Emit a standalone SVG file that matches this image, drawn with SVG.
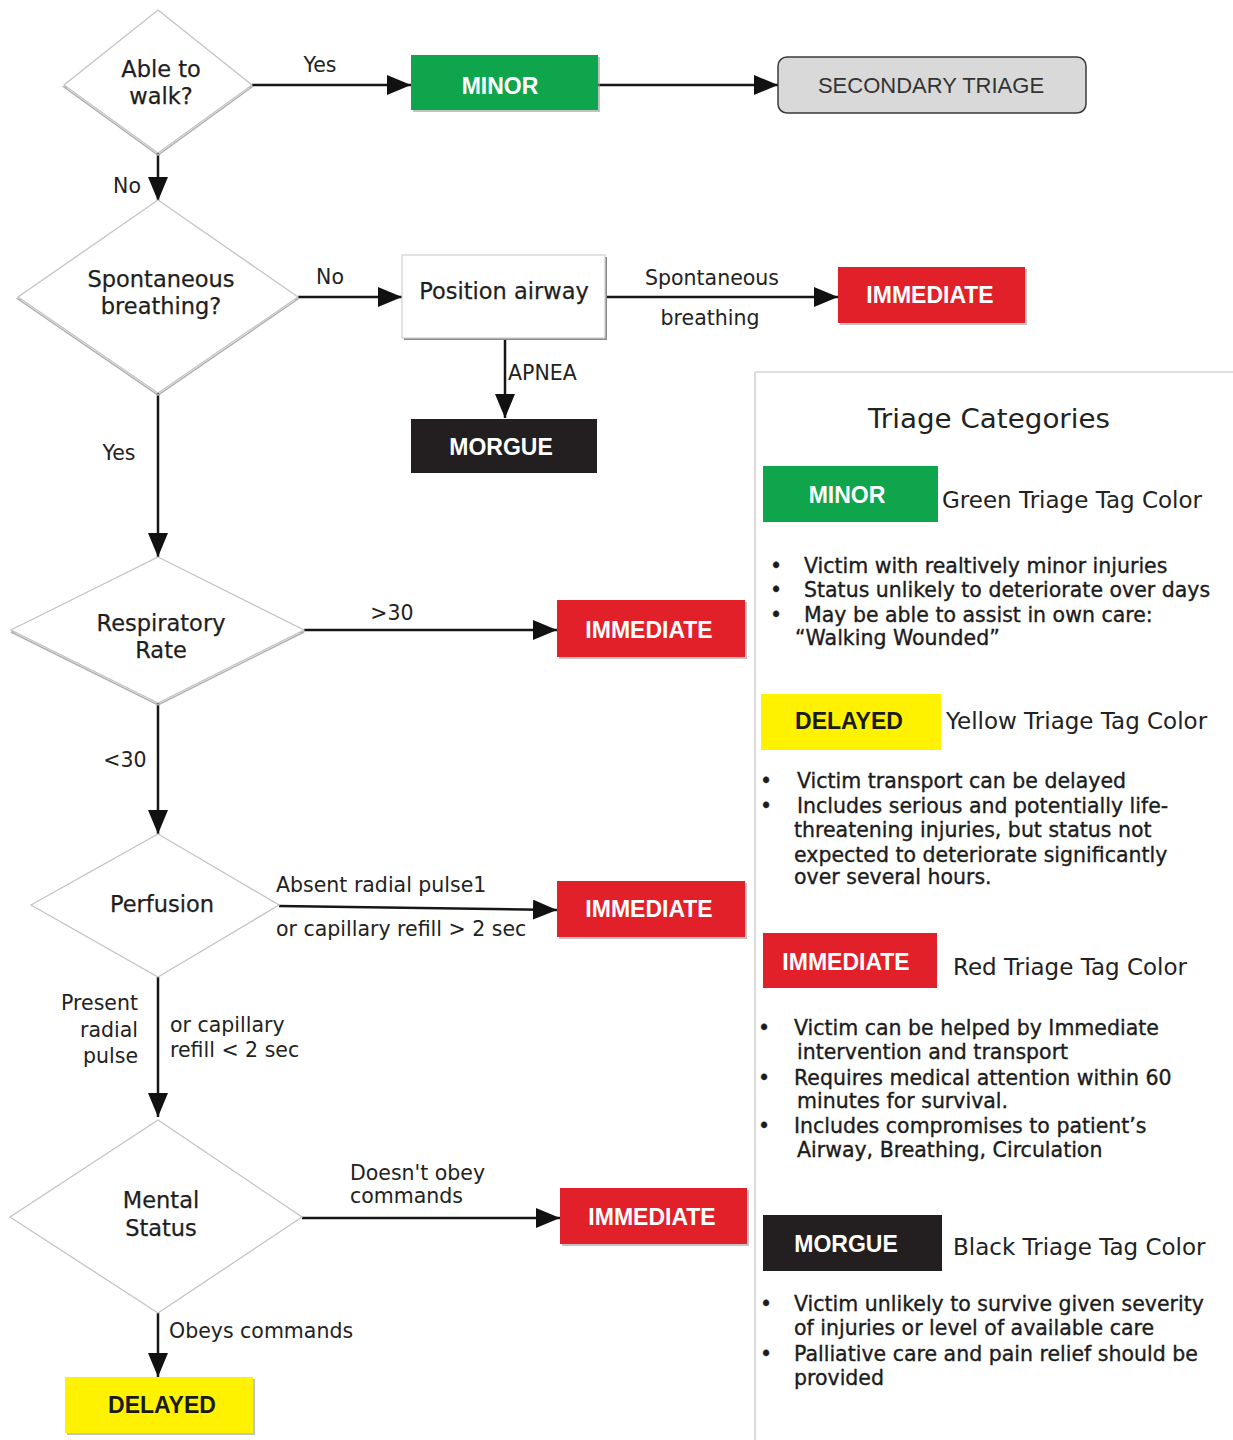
<svg xmlns="http://www.w3.org/2000/svg" width="1233" height="1440" viewBox="0 0 1233 1440">
<defs>
<marker id="arr" markerUnits="userSpaceOnUse" markerWidth="24" markerHeight="20" refX="24" refY="10" orient="auto">
<path d="M0,0 L24,10 L0,20 Z" fill="#111"/>
</marker>
<style>
.dia{fill:#fff;stroke:#c4c4c4;stroke-width:1.3}
.dsh{fill:none;stroke:#b0b0b0;stroke-width:1.5}
.dt{font-family:"DejaVu Sans",sans-serif;font-size:22.5px;fill:#1e1e1e;text-anchor:middle;stroke:#1e1e1e;stroke-width:0.25}
.lbl{font-family:"DejaVu Sans",sans-serif;font-size:20.5px;fill:#222}
.bx{font-family:"Liberation Sans",Arial,sans-serif;font-weight:bold;font-size:23px;text-anchor:middle}
.w{fill:#fff}
.k{fill:#1a1a1a}
.conn{stroke:#161616;stroke-width:2.5;fill:none;marker-end:url(#arr)}
.green{fill:#0ea54c}
.red{fill:#e2202a}
.yel{fill:#fff200}
.blk{fill:#231f20}
.shadow{fill:#9a9a9a;opacity:0.6}
.tag{font-family:"DejaVu Sans",sans-serif;font-size:23px;fill:#222}
.bul{font-family:"DejaVu Sans",sans-serif;font-size:20.5px;fill:#1c1c1c;stroke:#1c1c1c;stroke-width:0.35}
</style>
</defs>
<rect width="1233" height="1440" fill="#fff"/>

<!-- legend panel -->
<g id="legend-panel">
<line x1="755" y1="372" x2="1233" y2="372" stroke="#d4d4d4" stroke-width="1.5"/>
<line x1="755" y1="372" x2="755" y2="1440" stroke="#cfcfcf" stroke-width="1.5"/>
<text x="989" y="428" font-family="DejaVu Sans, sans-serif" font-size="26" fill="#222" text-anchor="middle" textLength="242" lengthAdjust="spacingAndGlyphs">Triage Categories</text>
</g>

<!-- connectors -->
<g id="connectors">
<line class="conn" x1="252" y1="85" x2="411" y2="85"/>
<line class="conn" x1="598" y1="85" x2="778" y2="85"/>
<line class="conn" x1="158" y1="153" x2="158" y2="201"/>
<line class="conn" x1="298" y1="297" x2="402" y2="297"/>
<line class="conn" x1="605" y1="297" x2="838" y2="297"/>
<line class="conn" x1="505" y1="338" x2="505" y2="418"/>
<line class="conn" x1="158" y1="393" x2="158" y2="557"/>
<line class="conn" x1="304" y1="630" x2="557" y2="630"/>
<line class="conn" x1="158" y1="703" x2="158" y2="834"/>
<line class="conn" x1="279" y1="906" x2="557" y2="910"/>
<line class="conn" x1="158" y1="977" x2="158" y2="1117"/>
<line class="conn" x1="302" y1="1218" x2="560" y2="1218"/>
<line class="conn" x1="158" y1="1313" x2="158" y2="1377"/>
<text class="lbl" x="320" y="72" text-anchor="middle">Yes</text>
<text class="lbl" x="141" y="193" text-anchor="end" font-size="19">No</text>
<text class="lbl" x="330" y="284" text-anchor="middle">No</text>
<text class="lbl" x="712" y="285" text-anchor="middle">Spontaneous</text>
<text class="lbl" x="710" y="325" text-anchor="middle">breathing</text>
<text class="lbl" x="508" y="380">APNEA</text>
<text class="lbl" x="119" y="460" text-anchor="middle">Yes</text>
<text class="lbl" x="392" y="620" text-anchor="middle">&gt;30</text>
<text class="lbl" x="125" y="767" text-anchor="middle">&lt;30</text>
<text class="lbl" x="276" y="892">Absent radial pulse1</text>
<text class="lbl" x="276" y="936">or capillary refill &gt; 2 sec</text>
<text class="lbl" x="138" y="1010" text-anchor="end">Present</text>
<text class="lbl" x="138" y="1037" text-anchor="end">radial</text>
<text class="lbl" x="138" y="1063" text-anchor="end">pulse</text>
<text class="lbl" x="170" y="1032">or capillary</text>
<text class="lbl" x="170" y="1057">refill &lt; 2 sec</text>
<text class="lbl" x="350" y="1180">Doesn't obey</text>
<text class="lbl" x="350" y="1203">commands</text>
<text class="lbl" x="169" y="1338" font-size="21">Obeys commands</text>
</g>

<!-- decision nodes -->
<g id="d-walk">
<polygon class="dsh" points="252,87 158,155 64,87"/>
<polygon class="dia" points="158,10 252,85 158,153 64,85"/>
<text class="dt" x="161" y="77">Able to</text>
<text class="dt" x="161" y="104">walk?</text>
</g>
<g id="d-breathing">
<polygon class="dsh" points="298,299 158,395 18,299"/>
<polygon class="dia" points="158,200 298,297 158,393 18,297"/>
<text class="dt" x="161" y="287">Spontaneous</text>
<text class="dt" x="161" y="314">breathing?</text>
</g>
<g id="d-resp">
<polygon class="dsh" points="304,632 158,705 11,632"/>
<polygon class="dia" points="158,557 304,630 158,703 11,630"/>
<text class="dt" x="161" y="631">Respiratory</text>
<text class="dt" x="161" y="658">Rate</text>
</g>
<g id="d-perf">
<polygon class="dia" points="158,834 279,905 158,977 31,905"/>
<text class="dt" x="162" y="912">Perfusion</text>
</g>
<g id="d-mental">
<polygon class="dia" points="158,1120 302,1217 158,1313 10,1217"/>
<text class="dt" x="161" y="1208">Mental</text>
<text class="dt" x="161" y="1236">Status</text>
</g>

<!-- process / outcome nodes -->
<g id="n-minor">
<rect class="shadow" x="413" y="57" width="187" height="55"/>
<rect class="green" x="411" y="55" width="187" height="55"/>
<text class="bx w" x="500" y="94">MINOR</text>
</g>
<g id="n-secondary">
<rect x="778" y="57" width="308" height="56" rx="9" fill="#d9d9d9" stroke="#3a3a3a" stroke-width="1.5"/>
<text x="931" y="93" font-family="Liberation Sans, Arial, sans-serif" font-size="22" fill="#333" text-anchor="middle">SECONDARY TRIAGE</text>
</g>
<g id="n-position">
<rect x="404" y="257" width="203" height="83" fill="#8a8a8a"/>
<rect x="402" y="255" width="203" height="83" fill="#fff" stroke="#cfcfcf" stroke-width="1.2"/>
<text x="504" y="299" font-family="DejaVu Sans, sans-serif" font-size="22.5" fill="#1e1e1e" stroke="#1e1e1e" stroke-width="0.25" text-anchor="middle">Position airway</text>
</g>
<g id="n-imm1">
<rect class="shadow" x="840" y="269" width="187" height="56"/>
<rect class="red" x="838" y="267" width="187" height="56"/>
<text class="bx w" x="930" y="303">IMMEDIATE</text>
</g>
<g id="n-morgue">
<rect class="blk" x="411" y="419" width="186" height="54"/>
<text class="bx w" x="501" y="455">MORGUE</text>
</g>
<g id="n-imm2">
<rect class="shadow" x="559" y="602" width="188" height="57"/>
<rect class="red" x="557" y="600" width="188" height="57"/>
<text class="bx w" x="649" y="638">IMMEDIATE</text>
</g>
<g id="n-imm3">
<rect class="shadow" x="559" y="883" width="188" height="56"/>
<rect class="red" x="557" y="881" width="188" height="56"/>
<text class="bx w" x="649" y="917">IMMEDIATE</text>
</g>
<g id="n-imm4">
<rect class="shadow" x="562" y="1190" width="187" height="56"/>
<rect class="red" x="560" y="1188" width="187" height="56"/>
<text class="bx w" x="652" y="1225">IMMEDIATE</text>
</g>
<g id="n-delayed">
<rect class="shadow" x="67" y="1379" width="188" height="56"/>
<rect class="yel" x="65" y="1377" width="188" height="56"/>
<text class="bx k" x="162" y="1413">DELAYED</text>
</g>

<!-- legend entries -->
<g id="legend-minor">
<rect class="green" x="763" y="466" width="175" height="56"/>
<text class="bx w" x="847" y="503">MINOR</text>
<text class="tag" x="942" y="508">Green Triage Tag Color</text>
<text class="bul" x="770" y="573">•</text>
<text class="bul" x="804" y="573">Victim with realtively minor injuries</text>
<text class="bul" x="770" y="597">•</text>
<text class="bul" x="804" y="597">Status unlikely to deteriorate over days</text>
<text class="bul" x="770" y="622">•</text>
<text class="bul" x="804" y="622">May be able to assist in own care:</text>
<text class="bul" x="795" y="645">“Walking Wounded”</text>
</g>
<g id="legend-delayed">
<rect class="yel" x="761" y="694" width="180" height="56"/>
<text class="bx k" x="849" y="729">DELAYED</text>
<text class="tag" x="946" y="729">Yellow Triage Tag Color</text>
<text class="bul" x="760" y="788">•</text>
<text class="bul" x="797" y="788">Victim transport can be delayed</text>
<text class="bul" x="760" y="813">•</text>
<text class="bul" x="797" y="813">Includes serious and potentially life-</text>
<text class="bul" x="794" y="837">threatening injuries, but status not</text>
<text class="bul" x="794" y="862">expected to deteriorate significantly</text>
<text class="bul" x="794" y="884">over several hours.</text>
</g>
<g id="legend-immediate">
<rect class="red" x="763" y="933" width="174" height="55"/>
<text class="bx w" x="846" y="970">IMMEDIATE</text>
<text class="tag" x="953" y="975">Red Triage Tag Color</text>
<text class="bul" x="758" y="1035">•</text>
<text class="bul" x="794" y="1035">Victim can be helped by Immediate</text>
<text class="bul" x="797" y="1059">intervention and transport</text>
<text class="bul" x="758" y="1085">•</text>
<text class="bul" x="794" y="1085">Requires medical attention within 60</text>
<text class="bul" x="797" y="1108">minutes for survival.</text>
<text class="bul" x="758" y="1133">•</text>
<text class="bul" x="794" y="1133">Includes compromises to patient’s</text>
<text class="bul" x="797" y="1157">Airway, Breathing, Circulation</text>
</g>
<g id="legend-morgue">
<rect class="blk" x="763" y="1215" width="179" height="56"/>
<text class="bx w" x="846" y="1252">MORGUE</text>
<text class="tag" x="953" y="1255">Black Triage Tag Color</text>
<text class="bul" x="760" y="1311">•</text>
<text class="bul" x="794" y="1311">Victim unlikely to survive given severity</text>
<text class="bul" x="794" y="1335">of injuries or level of available care</text>
<text class="bul" x="760" y="1361">•</text>
<text class="bul" x="794" y="1361">Palliative care and pain relief should be</text>
<text class="bul" x="794" y="1385">provided</text>
</g>
</svg>
